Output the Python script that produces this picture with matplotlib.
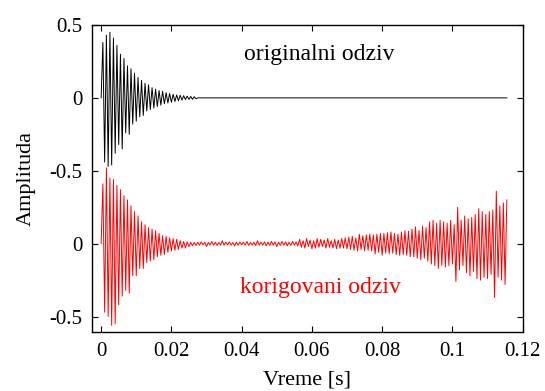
import numpy as np
import matplotlib
matplotlib.use("Agg")
import matplotlib.pyplot as plt

plt.rcParams["font.family"] = ["Liberation Serif", "DejaVu Serif"]

# sample spacing of the drawn peaks [s]
dt = 0.0005

# original response (peaks), dies out by ~0.027 s
original_head = [
    0.0, 0.38, -0.44, 0.43, -0.47, 0.45, -0.46, 0.41, -0.38, 0.36,
    -0.32, 0.30, -0.35, 0.27, -0.24, 0.22, -0.25, 0.20, -0.18, 0.17,
    -0.16, 0.14, -0.13, 0.12, -0.12, 0.10, -0.09, 0.09, -0.08, 0.07,
    -0.07, 0.06, -0.06, 0.05, -0.05, 0.045, -0.04, 0.035, -0.035, 0.03,
    -0.03, 0.025, -0.025, 0.02, -0.02, 0.018, -0.015, 0.015, -0.012, 0.012,
    -0.01, 0.01, -0.01, 0.008, -0.006, 0.0]

# corrected response
corrected = [
    0.0, 0.41, -0.47, 0.52, -0.50, 0.45, -0.56, 0.44, -0.55, 0.40, -0.42,
    0.37, -0.36, 0.33, -0.32, 0.30, -0.34, 0.26, -0.22, 0.22, -0.22,
    0.19, -0.17, 0.15, -0.17, 0.13, -0.13, 0.11, -0.12, 0.10, -0.11,
    0.09, -0.09, 0.07, -0.08, 0.055, -0.075, 0.05, -0.06, 0.04, -0.05,
    0.035, -0.045, 0.03, -0.04, 0.02, -0.03, 0.015, -0.03, 0.012, -0.02,
    0.01, -0.015, 0.008, -0.012, 0.01, -0.01, 0.012, -0.008, 0.01, -0.02,
    0.008, -0.01, 0.015, -0.01, 0.01, -0.012, 0.008, -0.01, 0.02, -0.01,
    0.01, -0.008, 0.012, -0.01, 0.008, -0.015, 0.01, -0.01, 0.012, -0.008,
    0.01, -0.01, 0.015, -0.012, 0.008, -0.01, 0.01, -0.012, 0.02, -0.01,
    0.01, -0.01,
    0.012, -0.015, 0.01, -0.012, 0.015, -0.01, 0.012, -0.02, 0.01, -0.012,
    0.015, -0.01, 0.012, -0.015, 0.01, -0.012, 0.015, -0.01, 0.012, -0.015,
    0.03, -0.025, 0.02, -0.03, 0.035, -0.02, 0.025, -0.035, 0.02, -0.03,
    0.035, -0.025, 0.03, -0.02, 0.025, -0.03, 0.035, -0.025, 0.02, -0.03,
    0.03, -0.035, 0.025, -0.03, 0.035, -0.03,
    0.04, -0.035, 0.045, -0.04, 0.05, -0.045, 0.04, -0.05, 0.065, -0.04,
    0.055, -0.05, 0.06, -0.045, 0.065, -0.05, 0.06,
    -0.07, 0.065, -0.06, 0.07, -0.08, 0.07, -0.065, 0.075, -0.07, 0.08,
    -0.065, 0.07, -0.075, 0.065, -0.08,
    0.08, -0.075, 0.09, -0.08, 0.085, -0.09, 0.10, -0.09, 0.115, -0.10,
    0.09, -0.11, 0.12, -0.10, 0.11, -0.12,
    0.15, -0.14, 0.16, -0.15, 0.14, -0.17, 0.16, -0.15, 0.15, -0.16, 0.14,
    -0.15, 0.16, -0.14, 0.13, -0.26, 0.25, -0.18, 0.16,
    -0.15, 0.19, -0.20, 0.17, -0.22, 0.18, -0.19, 0.20,
    -0.24, 0.24, -0.25, 0.22, -0.23, 0.20, -0.24, 0.22, -0.21, 0.23,
    -0.37, 0.36, -0.23, 0.26, -0.25, 0.28, -0.28, 0.30]

# flat after the ringing dies out
original = original_head + [0.0] * (len(corrected) - len(original_head))

t = np.arange(len(corrected)) * dt

# both traces share one axis, shifted apart
offset_top = 0.5
offset_bottom = -0.5

ytick_pos = [1.0, 0.5, 0.0, -0.5, -1.0]
ytick_lab = ["0.5", "0", "-0.5", "0", "-0.5"]
xtick_pos = [0, 0.02, 0.04, 0.06, 0.08, 0.1, 0.12]
xtick_lab = ["0", "0.02", "0.04", "0.06", "0.08", "0.1", "0.12"]

fig = plt.figure(figsize=(5.45, 3.91), dpi=100)
ax = fig.add_axes([0.1688, 0.1509, 0.7902, 0.7852])

ax.plot(t, np.array(original) + offset_top, color="black", lw=0.7)
ax.plot(t, np.array(corrected) + offset_bottom, color="red", lw=0.7)

ax.text(0.0622, 0.80, "originalni odziv", color="black", fontsize=17,
        ha="center", va="center")
ax.text(0.0625, -0.80, "korigovani odziv", color="red", fontsize=17,
        ha="center", va="center")

ax.set_xlim(-0.0026, 0.12)
ax.set_ylim(-1.106, 1.0)
ax.set_xticks(xtick_pos)
ax.set_xticklabels(xtick_lab)
ax.set_yticks(ytick_pos)
ax.set_yticklabels(ytick_lab)
ax.tick_params(direction="in", top=True, right=True, length=4, width=0.8,
               labelsize=15, pad=7)
for s in ax.spines.values():
    s.set_linewidth(1.0)

ax.set_xlabel("Vreme [s]", fontsize=16, labelpad=7)
ax.set_ylabel("Amplituda", fontsize=16, labelpad=10)

fig.savefig("out.png", dpi=100)
